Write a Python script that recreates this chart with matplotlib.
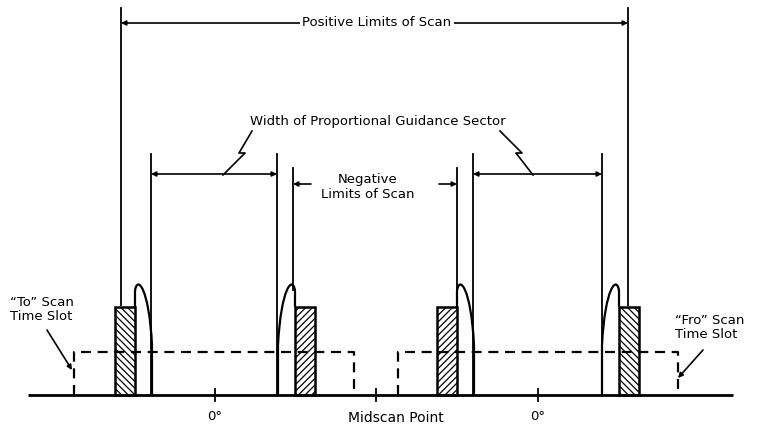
import matplotlib.pyplot as plt
from matplotlib.patches import Rectangle, PathPatch
from matplotlib.path import Path

# diagram geometry, in pixel units of the 765x426 picture (y grows downward)
baseline_y = 395
baseline_x = [28, 733]

# hatched pulses: left edge, width, top, hatch, side on which the beam lobe sits
pulse_left = [115, 295, 437, 619]
pulse_width = 20
pulse_top = 307
pulse_hatch = ["\\\\\\\\\\", "/////", "/////", "\\\\\\\\\\"]
lobe_side = [1, -1, 1, -1]
lobe_peak_y = 283

# dashed time slots (left, right, height)
slot_edges = [(74, 354), (398, 678)]
slot_top = 352

# vertical limit lines (x, top y, bottom y)
positive_x = [121, 628]
positive_top, positive_bottom = 8, 305
width_x = [(151, 277), (473, 602)]
width_top = 154
negative_x = [293, 457]
negative_top, negative_bottom = 168, 290

# baseline ticks and labels
tick_x = [215, 376, 538]
tick_labels = ["0°", "", "0°"]

fig = plt.figure(figsize=(7.65, 4.26), dpi=100)
ax = fig.add_axes([0, 0, 1, 1])
ax.set_xlim(0, 765)
ax.set_ylim(426, 0)
ax.axis("off")
plt.rcParams["hatch.linewidth"] = 0.9

fs = 9.5
lc = "black"

# baseline
ax.plot(baseline_x, [baseline_y, baseline_y], color=lc, lw=2, solid_capstyle="butt")
for x, lab in zip(tick_x, tick_labels):
    ax.plot([x, x], [baseline_y - 6, baseline_y + 6], color=lc, lw=1.3)
    if lab:
        ax.text(x, 416, lab, ha="center", va="center", fontsize=fs)
ax.text(396, 418, "Midscan Point", ha="center", va="center", fontsize=fs + 0.5)

# dashed time slots
for l, r in slot_edges:
    ax.plot([l, l, r, r], [baseline_y, slot_top, slot_top, baseline_y],
            color=lc, lw=1.6, linestyle=(0, (4.5, 3)))

# pulses with hatching and lobes
for left, hatch, side in zip(pulse_left, pulse_hatch, lobe_side):
    ax.add_patch(Rectangle((left, pulse_top), pulse_width, baseline_y - pulse_top,
                           facecolor="white", edgecolor=lc, lw=1.8, hatch=hatch))
    xa = left + pulse_width if side == 1 else left
    xf = xa + side * 17
    verts = [(xa, pulse_top), (xa, lobe_peak_y + 8),
             (xa + side * 2, lobe_peak_y - 8), (xa + side * 14, lobe_peak_y + 4), (xf, 345),
             (xf, baseline_y)]
    codes = [Path.MOVETO, Path.LINETO, Path.CURVE4, Path.CURVE4, Path.CURVE4, Path.LINETO]
    ax.add_patch(PathPatch(Path(verts, codes), facecolor="none", edgecolor=lc, lw=1.6))

# limit lines
for x in positive_x:
    ax.plot([x, x], [positive_top, positive_bottom], color=lc, lw=1.3)
for pair in width_x:
    for x in pair:
        ax.plot([x, x], [width_top, baseline_y], color=lc, lw=1.3)
for x in negative_x:
    ax.plot([x, x], [negative_top, negative_bottom], color=lc, lw=1.3)

arrow = dict(arrowstyle="<|-|>", color=lc, lw=1.2, mutation_scale=7, shrinkA=0, shrinkB=0)
one_way = dict(arrowstyle="-|>", color=lc, lw=1.2, mutation_scale=7, shrinkA=0, shrinkB=0)

# positive limits
ax.annotate("", xy=(positive_x[0], 23), xytext=(positive_x[1], 23), arrowprops=arrow)
ax.text(377, 23, "Positive Limits of Scan", ha="center", va="center", fontsize=fs,
        bbox=dict(facecolor="white", edgecolor="none", pad=2))

# width of proportional guidance sector
for l, r in width_x:
    ax.annotate("", xy=(l, 174), xytext=(r, 174), arrowprops=arrow)
ax.text(378, 121, "Width of Proportional Guidance Sector", ha="center", va="center", fontsize=fs)
ax.plot([252, 239, 245, 223], [131, 153, 153, 175], color=lc, lw=1.2)
ax.plot([500, 522, 516, 533], [131, 153, 153, 175], color=lc, lw=1.2)

# negative limits
ax.annotate("", xy=(negative_x[0], 184), xytext=(negative_x[0] + 18, 184), arrowprops=one_way)
ax.annotate("", xy=(negative_x[1], 184), xytext=(negative_x[1] - 18, 184), arrowprops=one_way)
ax.text(368, 180, "Negative", ha="center", va="center", fontsize=fs)
ax.text(368, 195, "Limits of Scan", ha="center", va="center", fontsize=fs)

# time slot labels
ax.text(10, 302, "\u201cTo\u201d Scan", ha="left", va="center", fontsize=fs)
ax.text(10, 317, "Time Slot", ha="left", va="center", fontsize=fs)
ax.annotate("", xy=(72, 370), xytext=(47, 330), arrowprops=one_way)
ax.text(675, 320, "\u201cFro\u201d Scan", ha="left", va="center", fontsize=fs)
ax.text(675, 335, "Time Slot", ha="left", va="center", fontsize=fs)
ax.annotate("", xy=(678, 378), xytext=(703, 350), arrowprops=one_way)

fig.savefig("out.png", dpi=100)
